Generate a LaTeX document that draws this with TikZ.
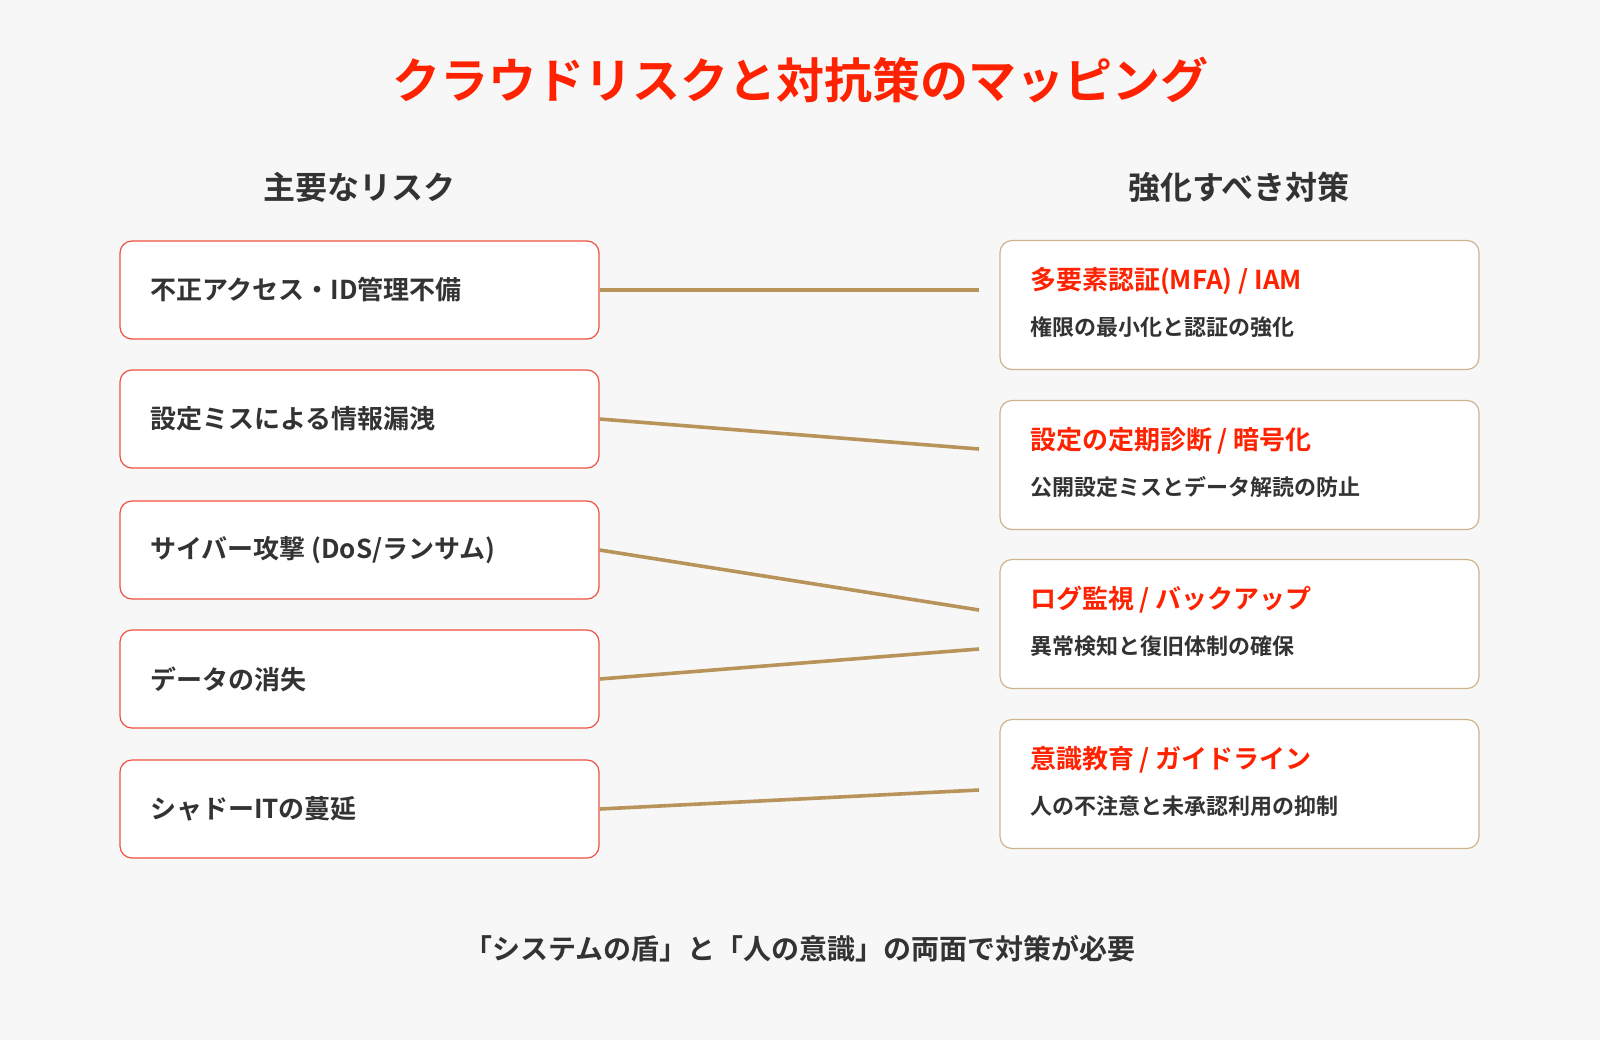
\documentclass[tikz,border=0pt]{standalone}
\usepackage{fontspec}
\setmainfont{Noto Sans CJK JP}[BoldFont={* Bold}]
\usetikzlibrary{positioning}
\definecolor{titlered}{HTML}{FF2200}
\definecolor{riskred}{HTML}{F05040}
\definecolor{tan}{HTML}{CDB48E}
\definecolor{linktan}{HTML}{B8935A}
\definecolor{ink}{HTML}{333333}
\definecolor{bg}{HTML}{F7F7F7}
\begin{document}
\begin{tikzpicture}[x=0.5pt,y=-0.5pt,
  riskbox/.style={draw=riskred,fill=white,rounded corners=6pt,line width=0.6pt,minimum width=239.5pt,minimum height=49pt,inner sep=0pt},
  measbox/.style={draw=tan,fill=white,rounded corners=6pt,line width=0.6pt,minimum width=239.5pt,minimum height=64.5pt,inner sep=0pt},
  risktext/.style={anchor=west,font=\bfseries\fontsize{13}{15}\selectfont,text=ink},
  meastitle/.style={anchor=west,font=\bfseries\fontsize{13}{15}\selectfont,text=titlered},
  meassub/.style={anchor=west,font=\bfseries\fontsize{11}{13}\selectfont,text=ink},
  head/.style={font=\bfseries\fontsize{16}{19}\selectfont,text=ink},
  link/.style={draw=linktan,line width=1.8pt}]
\fill[bg] (0,0) rectangle (1600,1040);
\useasboundingbox (0,0) rectangle (1600,1040);
\node (title) at (800,80) {\bfseries\fontsize{24}{28}\selectfont\color{titlered}クラウドリスクと対抗策のマッピング};
\node[head] (lhead) at (359,187) {主要なリスク};
\node[head] (rhead) at (1239,187) {強化すべき対策};
% risks
\foreach \n/\y/\t in {1/290/{不正アクセス・ID管理不備},2/419/{設定ミスによる情報漏洩},3/550/{サイバー攻撃 (DoS/ランサム)},4/679/{データの消失},5/809/{シャドーITの蔓延}}{
  \node[riskbox] (risk\n) at (359.5,\y) {};
  \node[risktext] at (143,\y) {\t};
}
% measures
\foreach \n/\y/\t/\s in {1/305/{多要素認証(MFA) / IAM}/{権限の最小化と認証の強化},2/465/{設定の定期診断 / 暗号化}/{公開設定ミスとデータ解読の防止},3/624/{ログ監視 / バックアップ}/{異常検知と復旧体制の確保},4/784/{意識教育 / ガイドライン}/{人の不注意と未承認利用の抑制}}{
  \node[measbox] (meas\n) at (1239.5,\y) {};
  \node[meastitle] at (1023,\y-24) {\t};
  \node[meassub] at (1023,\y+22) {\s};
}
\coordinate (in1) at (979,290);
\coordinate (in2) at (979,449);
\coordinate (in3) at (979,610);
\coordinate (in4) at (979,649);
\coordinate (in5) at (979,790);
\foreach \n in {1,...,5}{\draw[link] (risk\n.east) -- (in\n);}
\node (foot) at (800,949) {\bfseries\fontsize{14}{16}\selectfont\color{ink}「システムの盾」と「人の意識」の両面で対策が必要};
\end{tikzpicture}
\end{document}
